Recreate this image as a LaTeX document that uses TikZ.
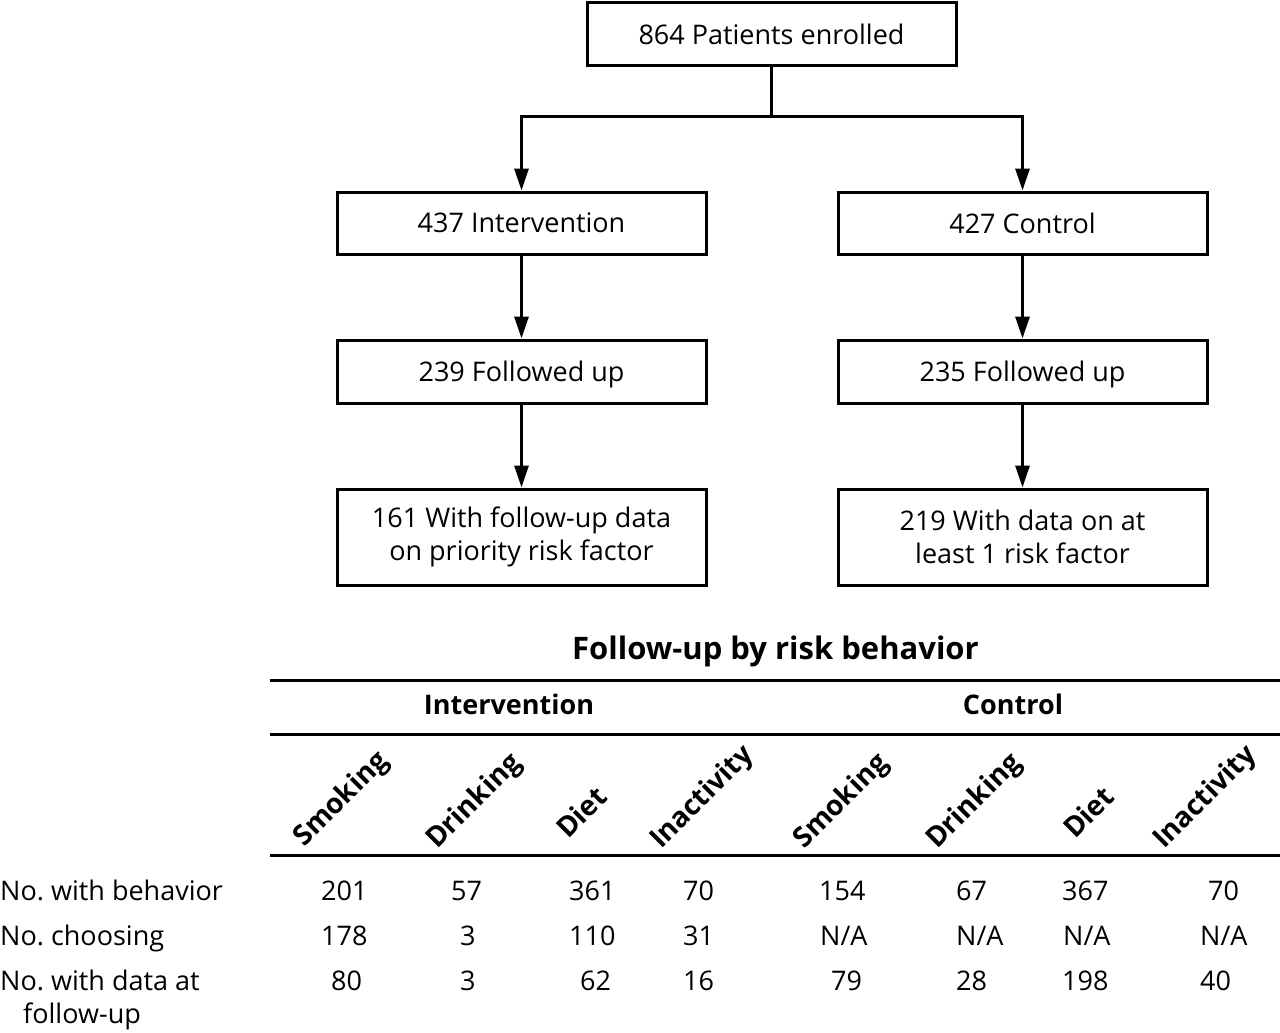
\documentclass[tikz,border=0pt]{standalone}
\usepackage{fontspec}
\setmainfont{Open Sans}
\usetikzlibrary{arrows.meta}
\frenchspacing
\begin{document}
\frenchspacing
\begin{tikzpicture}[x=1pt,y=-1pt,
  box/.style={draw,line width=3pt,minimum width=369pt,inner sep=0pt,align=center,font=\fontsize{27}{33}\selectfont},
  onebox/.style={box,text depth=0pt},
  arr/.style={line width=3pt,-{Triangle[length=22pt,width=14pt]}},
  rule/.style={line width=3pt},
  txt/.style={inner sep=0pt,anchor=base west,font=\fontsize{27}{33}\selectfont},
  hd/.style={inner sep=0pt,anchor=base,font=\fontsize{27}{33}\selectfont\bfseries},
  rot/.style={inner sep=0pt,anchor=base west,rotate=45,font=\fontsize{28}{34}\selectfont\bfseries}]
\useasboundingbox (0,0) rectangle (1280,1033);
% flow chart
\node[onebox,minimum height=63pt] (enr) at (771.5,34.5) {864 Patients enrolled};
\node[onebox,minimum height=62pt] (int) at (521.5,223) {437 Intervention};
\node[onebox,minimum height=62pt] (ctl) at (1022.5,223) {427 Control};
\node[onebox,minimum height=63pt] (ifu) at (521.5,371.5) {239 Followed up};
\node[onebox,minimum height=63pt] (cfu) at (1022.5,371.5) {235 Followed up};
\node[box,minimum height=96pt] (idat) at (521.5,537) {161 With follow-up data\\on priority risk factor};
\node[box,minimum height=96pt] (cdat) at (1022.5,537) {219 With data on at\\least 1 risk factor};
\coordinate (split) at (771.5,116);
\draw[rule] (enr.south) -- (split);
\draw[arr] (split) -| (int.north);
\draw[arr] (split) -| (ctl.north);
\draw[arr] (int.south) -- (ifu.north);
\draw[arr] (ctl.south) -- (cfu.north);
\draw[arr] (ifu.south) -- (idat.north);
\draw[arr] (cfu.south) -- (cdat.north);
% table
\node[hd,font=\fontsize{31}{37}\selectfont\bfseries] (title) at (775.5,659) {Follow-up by risk behavior};
\coordinate (r1l) at (270,680); \coordinate (r1r) at (1280,680);
\coordinate (r2l) at (270,734); \coordinate (r2r) at (1280,734);
\coordinate (r3l) at (270,855); \coordinate (r3r) at (1280,855);
\draw[rule] (r1l) -- (r1r);
\draw[rule] (r2l) -- (r2r);
\draw[rule] (r3l) -- (r3r);
\node[hd] (hint) at (509,714) {Intervention};
\node[hd] (hctl) at (1013,714) {Control};
\node[rot] (c1) at (304,848) {Smoking};
\node[rot] (c2) at (437,850) {Drinking};
\node[rot] (c3) at (568,840) {Diet};
\node[rot] (c4) at (661,850) {Inactivity};
\node[rot] (c5) at (804,850) {Smoking};
\node[rot] (c6) at (937,850) {Drinking};
\node[rot] (c7) at (1075,840) {Diet};
\node[rot] (c8) at (1164,850) {Inactivity};
% row labels
\node[txt] (l1) at (0,900) {No. with behavior};
\node[txt] (l2) at (0,945) {No. choosing};
\node[txt] (l3) at (0,990) {No. with data at};
\node[txt] (l3b) at (23,1023) {follow-up};
% values row 1
\node[txt] (v11) at (321,900) {201};
\node[txt] (v12) at (451,900) {57};
\node[txt] (v13) at (569,900) {361};
\node[txt] (v14) at (683,900) {70};
\node[txt] (v15) at (819,900) {154};
\node[txt] (v16) at (956,900) {67};
\node[txt] (v17) at (1062,900) {367};
\node[txt] (v18) at (1208,900) {70};
% values row 2
\node[txt] (v21) at (321,945) {178};
\node[txt] (v22) at (460,945) {3};
\node[txt] (v23) at (569,945) {110};
\node[txt] (v24) at (683,945) {31};
\node[txt] (v25) at (820,945) {N/A};
\node[txt] (v26) at (956,945) {N/A};
\node[txt] (v27) at (1063,945) {N/A};
\node[txt] (v28) at (1200,945) {N/A};
% values row 3
\node[txt] (v31) at (331,990) {80};
\node[txt] (v32) at (460,990) {3};
\node[txt] (v33) at (580,990) {62};
\node[txt] (v34) at (683,990) {16};
\node[txt] (v35) at (831,990) {79};
\node[txt] (v36) at (956,990) {28};
\node[txt] (v37) at (1062,990) {198};
\node[txt] (v38) at (1200,990) {40};
\end{tikzpicture}
\end{document}
